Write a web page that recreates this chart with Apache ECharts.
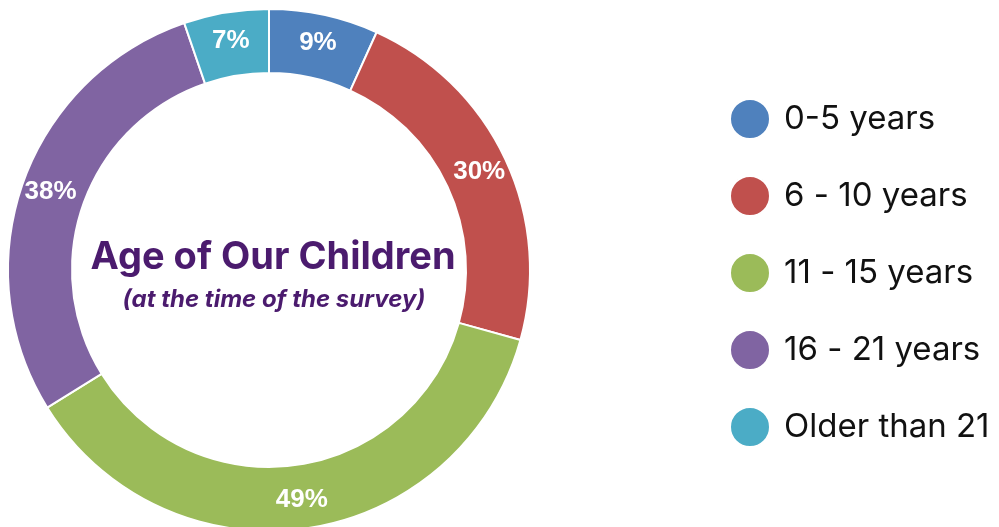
<!DOCTYPE html>
<html>
<head>
<meta charset="utf-8">
<script src="https://cdn.jsdelivr.net/npm/echarts@6/dist/echarts.min.js"></script>
<style>html,body{margin:0;padding:0;background:#fff}#c{width:999px;height:527px}</style>
</head>
<body>
<div id="c"></div>
<script>
const categories = ['0-5 years', '6 - 10 years', '11 - 15 years', '16 - 21 years', 'Older than 21'];
const values = [9, 30, 49, 38, 7];
const colors = ['#4F81BD', '#C0504D', '#9BBB59', '#8064A2', '#4BACC6'];
const titleText = 'Age of Our Children';
const subtitleText = '(at the time of the survey)';

const chart = echarts.init(document.getElementById('c'));
chart.setOption({
  animation: false,
  backgroundColor: '#ffffff',
  title: [{
    text: titleText,
    left: 268, top: 234, textAlign: 'center',
    textStyle: { color: '#4B1B6E', fontSize: 38, fontWeight: 'bold', fontFamily: 'Inter' }
  }, {
    text: subtitleText,
    left: 269, top: 283, textAlign: 'center',
    textStyle: { color: '#4B1B6E', fontSize: 24, fontWeight: 'bold', fontStyle: 'italic', fontFamily: 'Inter' }
  }],
  legend: {
    orient: 'vertical',
    left: 729, top: 98,
    padding: 0,
    icon: 'circle',
    itemWidth: 40, itemHeight: 40, itemGap: 35,
    data: categories,
    textStyle: { color: '#111', fontSize: 33, fontFamily: 'Inter', padding: [0, 0, 0, 9] }
  },
  series: [{
    type: 'pie',
    center: [269, 270],
    radius: [197, 261],
    startAngle: 90,
    clockwise: true,
    avoidLabelOverlap: false,
    itemStyle: { borderColor: '#ffffff', borderWidth: 2 },
    label: {
      position: 'inside',
      formatter: '{c}%',
      color: '#ffffff',
      fontSize: 26,
      fontWeight: 'bold',
      fontFamily: 'Liberation Sans'
    },
    labelLine: { show: false },
    emphasis: { disabled: true },
    data: categories.map((n, i) => ({ name: n, value: values[i], itemStyle: { color: colors[i] } }))
  }]
});
</script>
</body>
</html>
